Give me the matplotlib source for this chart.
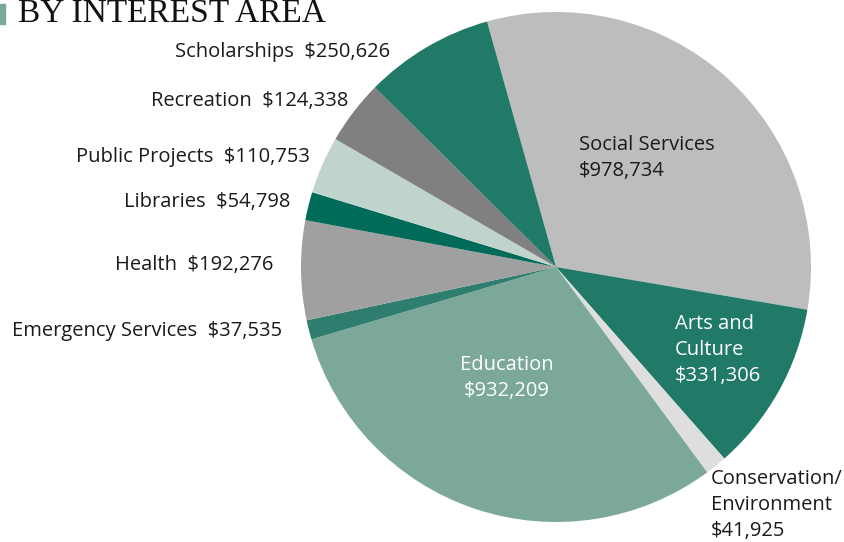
import matplotlib.pyplot as plt
from matplotlib.patches import Rectangle

# ------------------------------------------------------------
# Donnees (sens horaire depuis Social Services)
# ------------------------------------------------------------
categories = ["Social Services", "Arts and Culture", "Conservation/Environment",
              "Education", "Emergency Services", "Health", "Libraries",
              "Public Projects", "Recreation", "Scholarships"]
montants = [978734, 331306, 41925, 932209, 37535, 192276, 54798,
            110753, 124338, 250626]
couleurs = ["#bdbdbd", "#217a68", "#dedede", "#7ba899", "#2e7d6e",
            "#a0a0a0", "#006b58", "#c0d4cd", "#808080", "#217a68"]

# libelles : texte, position en pixels (x, y), alignement, couleur
libelles = [
    ("Social Services\n$978,734", 579, 158, "left", "#1a1a1a"),
    ("Arts and\nCulture\n$331,306", 675, 350, "left", "white"),
    ("Conservation/\nEnvironment\n$41,925", 711, 505, "left", "#1a1a1a"),
    ("Education\n$932,209", 507, 378, "center", "white"),
    ("Emergency Services  $37,535", 282, 331, "right", "#1a1a1a"),
    ("Health  $192,276", 273, 265, "right", "#1a1a1a"),
    ("Libraries  $54,798", 290, 202, "right", "#1a1a1a"),
    ("Public Projects  $110,753", 310, 157, "right", "#1a1a1a"),
    ("Recreation  $124,338", 348, 101, "right", "#1a1a1a"),
    ("Scholarships  $250,626", 390, 52, "right", "#1a1a1a"),
]

W, H = 844, 542
cx, cy, R = 556, 267, 255

fig = plt.figure(figsize=(W / 100, H / 100), dpi=100)
ax = fig.add_axes([0, 0, 1, 1])

ax.pie(montants, colors=couleurs, startangle=105.7, counterclock=False,
       radius=1, center=(0, 0), wedgeprops=dict(linewidth=0))

ax.set_aspect("auto")
ax.set_xlim(-cx / R, (W - cx) / R)
ax.set_ylim((cy - H) / R, cy / R)
ax.axis("off")

for txt, px, py, ha, col in libelles:
    ax.text((px - cx) / R, (cy - py) / R, txt, ha=ha, va="center",
            fontsize=14.5, color=col, family="Open Sans", linespacing=1.38)

# titre + petit carre vert
fig.text(18 / W, 1 - 22 / H, "BY INTEREST AREA", ha="left", va="baseline",
         fontsize=24, family="Liberation Serif", color="#111111")
fig.patches.append(Rectangle((0, 1 - 24 / H), 5 / W, 20 / H,
                             transform=fig.transFigure, color="#7ba899"))

plt.savefig("out.png", dpi=100)
